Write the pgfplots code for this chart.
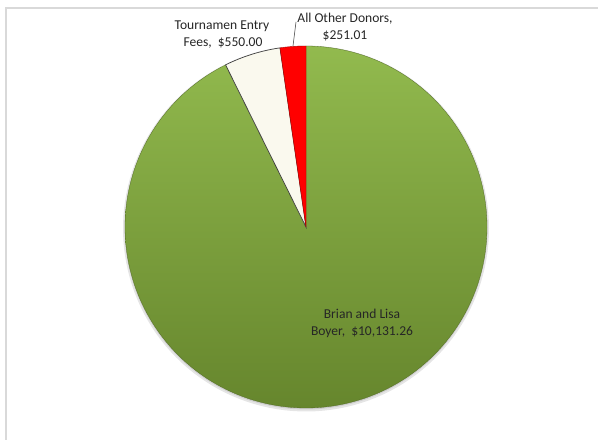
\documentclass[border=0pt]{standalone}
\usepackage{pgfplots}
\pgfplotsset{compat=1.18}
\usepackage{pgfplotstable}
\usepackage{fontspec}
\setmainfont{Carlito}
\definecolor{gTop}{HTML}{92BA4E}
\definecolor{gBot}{HTML}{66862D}
\definecolor{wFill}{HTML}{FAF9EE}
\definecolor{rFill}{HTML}{FF0000}
\definecolor{txt}{HTML}{262626}
\definecolor{frame}{HTML}{D9D9D9}

\pgfplotstableread{
label value
Brian 10131.26
Tournament 550.00
Other 251.01
}\piedata

\begin{document}
\begin{tikzpicture}[lab/.style={anchor=base, inner sep=0pt, text=txt, font=\fontsize{13.6}{17}\selectfont}]
\useasboundingbox (0,0) rectangle (598bp,440bp);
\pgfplotstablegetelem{0}{value}\of\piedata \let\vA\pgfplotsretval
\pgfplotstablegetelem{1}{value}\of\piedata \let\vB\pgfplotsretval
\pgfplotstablegetelem{2}{value}\of\piedata \let\vC\pgfplotsretval
\pgfmathsetmacro\tot{\vA+\vB+\vC}
\pgfmathsetmacro\fA{\vA/\tot}
\pgfmathsetmacro\fB{\vB/\tot}
\pgfmathsetmacro\fC{\vC/\tot}
\pgfmathsetmacro\aA{90-360*\fA}
\pgfmathsetmacro\aB{\aA-360*\fB}
\pgfmathsetmacro\aC{\aB-360*\fC}
\begin{axis}[at={(0,0)}, anchor=south west,
  width=598bp, height=440bp, scale only axis,
  xmin=0, xmax=598, ymin=0, ymax=440,
  hide axis, clip=false]
% frame
\draw[frame, line width=2bp] (axis cs:6,-10) -- (axis cs:6,432) -- (axis cs:610,432);
% shadow
\addplot[draw=none, fill=black, opacity=0.10, domain=0:360, samples=150, variable=\t]
  ({306+183*cos(t)},{211.5+183*sin(t)});
\addplot[draw=none, fill=black, opacity=0.10, domain=0:360, samples=150, variable=\t]
  ({306+181.5*cos(t)},{212+181.5*sin(t)});
% Brian and Lisa Boyer
\addplot[draw=gBot!80!black, line width=0.3bp, top color=gTop, bottom color=gBot, domain=\aA:90, samples=200, variable=\t]
  ({306+181*cos(t)},{213+181*sin(t)}) -- (axis cs:306,213) -- cycle;
% Tournament entry fees
\addplot[draw=black!75, line width=0.7bp, fill=wFill, domain=\aB:\aA, samples=30, variable=\t]
  ({306+181*cos(t)},{213+181*sin(t)}) -- (axis cs:306,213) -- cycle;
% All other donors
\addplot[draw=red!70!black, line width=0.4bp, fill=rFill, domain=\aC:\aB, samples=20, variable=\t]
  ({306+181*cos(t)},{213+181*sin(t)}) -- (axis cs:306,213) -- cycle;
% leader line
\draw[black!70, line width=0.6bp] (axis cs:296,418) -- (axis cs:293,394);
% labels
\node[lab] at (axis cs:222,410) {Tournamen Entry};
\node[lab] at (axis cs:223,393) {Fees,\ \ \$550.00};
\node[lab] at (axis cs:345,417) {All Other Donors,};
\node[lab] at (axis cs:345,400) {\$251.01};
\node[lab] at (axis cs:362,122) {Brian and Lisa};
\node[lab] at (axis cs:362,105) {Boyer,\ \ \$10,131.26};
\end{axis}
\end{tikzpicture}
\end{document}
